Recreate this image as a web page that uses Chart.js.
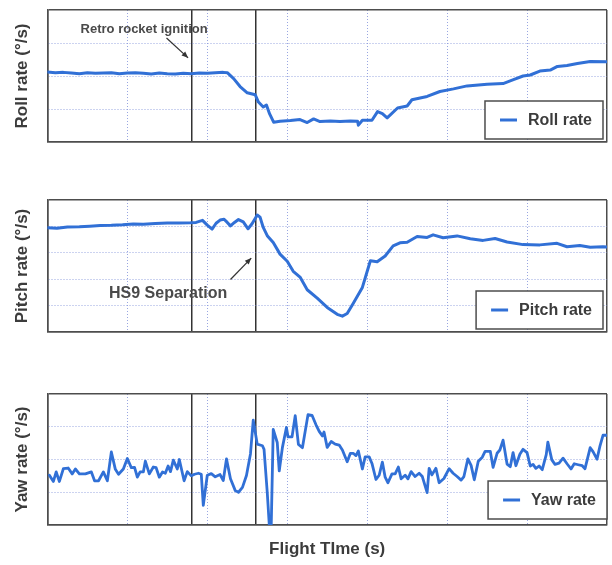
<!DOCTYPE html>
<html>
<head>
<meta charset="utf-8">
<script src="https://cdn.jsdelivr.net/npm/chart.js@4.4.1/dist/chart.umd.min.js"></script>
<style>
  html, body { margin: 0; padding: 0; background: #fff; }
  #wrap { position: relative; width: 612px; height: 565px; }
  canvas { position: absolute; left: 0; }
</style>
</head>
<body>
<div id="wrap">
  <canvas id="roll" width="612" height="175" style="top:0"></canvas>
  <canvas id="pitch" width="612" height="175" style="top:185px"></canvas>
  <canvas id="yaw" width="612" height="185" style="top:380px"></canvas>
</div>
<script>
// flight time in grid units, events = retro ignition / HS9 separation
const gridTimes = [0, 10, 20, 30, 40, 50, 60, 70];
const eventTimes = [18.1, 26.1];

const rollTime = [0, 1, 2, 3, 4, 5, 6, 7, 8, 9, 10, 11, 12, 13, 14, 15, 16, 17, 18, 19, 20, 21, 22,
  22.5, 23.3, 24.1, 25, 26, 26.4, 27, 27.4, 27.8, 28.3,
  29.1, 30.4, 31.6, 32.5, 33.3, 34.1, 35.4, 36.6, 37.9, 38.8, 38.9, 39.4, 40.6,
  41.3, 41.9, 42.5, 43.8, 45, 45.6, 47.5, 49.1, 50.8, 52.5,
  55, 57, 58.3, 59.5, 60.4, 61.6, 62.9, 63.8, 65, 66.3, 67.9, 70];
const rollRate = [2.12, 2.10, 2.11, 2.09, 2.07, 2.10, 2.08, 2.09, 2.10, 2.07, 2.09, 2.10, 2.08, 2.06, 2.09, 2.07, 2.06, 2.08, 2.07, 2.09, 2.08, 2.10, 2.11,
  2.10, 1.92, 1.68, 1.49, 1.43, 1.21, 1.06, 1.12, 0.85, 0.60,
  0.63, 0.65, 0.68, 0.59, 0.70, 0.62, 0.64, 0.62, 0.64, 0.63, 0.51, 0.66, 0.66,
  0.92, 0.86, 0.73, 1.03, 1.09, 1.28, 1.38, 1.53, 1.61, 1.70,
  1.75, 1.77, 1.89, 2.00, 2.03, 2.15, 2.18, 2.29, 2.32, 2.38, 2.44, 2.43];

const pitchTime = [0, 1.2, 2.5, 4, 5.3, 6.6, 8, 9.4, 10.75, 12,
  13.5, 15, 16.5, 17.9, 18.6, 19.4, 20, 20.6, 21.1, 21.6,
  22.1, 22.5, 22.9, 23.4, 23.9, 24.5, 25.1, 25.6, 26.25, 26.6,
  27, 27.5, 28.25, 29.1, 30, 30.75, 31.6, 32.5, 33.75, 35,
  36.25, 36.9, 37.5, 38.25, 39.4, 40.4, 41.25, 42.25, 43.25, 44.1,
  45, 46.25, 47.5, 48.25, 49.5, 51.25, 52.9, 54.5, 56, 57.5,
  59.5, 61.6, 63.75, 65, 66.6, 67.9, 69.5, 70];
const pitchRate = [3.95, 3.93, 3.98, 3.99, 4.01, 4.03, 4.04, 4.06, 4.09, 4.08,
  4.11, 4.13, 4.13, 4.14, 4.15, 4.23, 4.05, 3.90, 4.12, 4.24,
  4.27, 4.15, 4.02, 4.15, 4.26, 4.17, 3.91, 4.10, 4.43, 4.35,
  3.96, 3.65, 3.39, 2.95, 2.68, 2.30, 2.08, 1.60, 1.28, 0.93,
  0.67, 0.60, 0.70, 1.08, 1.69, 2.70, 2.66, 2.88, 3.26, 3.38,
  3.40, 3.62, 3.58, 3.68, 3.57, 3.64, 3.53, 3.47, 3.54, 3.41,
  3.31, 3.30, 3.36, 3.23, 3.28, 3.21, 3.23, 3.22];

const yawTime = [0.25, 0.75, 1.1, 1.5, 2, 2.6, 3.1, 3.5, 4, 4.75,
  5.5, 5.9, 6.4, 7, 7.5, 8, 8.5, 8.9, 9.5, 10,
  10.5, 10.9, 11.25, 11.6, 12, 12.25, 12.75, 13.25, 13.6, 14,
  14.4, 14.75, 15.1, 15.4, 15.75, 16.25, 16.5, 17.1, 17.5, 18,
  18.4, 18.9, 19.25, 19.5, 20, 20.5, 21, 21.6, 22, 22.4,
  22.9, 23.5, 23.9, 24.4, 24.9, 25.4, 25.75, 26.25, 26.9, 27.1,
  27.5, 27.75, 28, 28.25, 28.75, 29, 29.4, 29.9, 30.1, 30.6,
  31, 31.4, 31.9, 32.6, 33.1, 33.6, 34, 34.4, 34.6, 35,
  35.5, 36, 36.5, 36.9, 37.5, 37.9, 38.25, 38.6, 38.9, 39.4,
  39.75, 40.25, 40.6, 41.1, 41.5, 41.9, 42.25, 42.6, 43.1, 43.5,
  43.9, 44.25, 44.75, 45.1, 45.5, 46, 46.5, 46.9, 47.5, 47.75,
  48.1, 48.6, 49, 49.6, 50.25, 50.75, 51.25, 51.75, 52.1, 52.6,
  53, 53.4, 53.9, 54.4, 54.75, 55.4, 55.75, 56.25, 56.6, 57,
  57.5, 57.9, 58.25, 58.6, 59.1, 59.5, 60, 60.4, 60.75, 61.1,
  61.5, 61.9, 62.4, 62.6, 63.1, 63.5, 64, 64.5, 65, 65.5,
  65.9, 66.4, 66.9, 67.25, 67.9, 68.25, 68.75, 69.1, 69.5, 70];
const yawRate = [1.52, 1.33, 1.62, 1.33, 1.72, 1.74, 1.56, 1.71, 1.56, 1.56,
  1.62, 1.35, 1.35, 1.62, 1.35, 2.23, 1.70, 1.55, 1.71, 2.03,
  1.75, 1.76, 1.46, 1.62, 1.62, 1.95, 1.56, 1.77, 1.75, 1.46,
  1.62, 1.58, 1.80, 1.63, 1.98, 1.71, 2.00, 1.35, 1.63, 1.50,
  1.55, 1.58, 1.55, 0.60, 1.52, 1.57, 1.47, 1.54, 1.36, 2.02,
  1.41, 1.05, 1.00, 1.15, 1.51, 2.17, 3.20, 2.47, 2.42, 2.31,
  1.00, 0.02, 0.00, 2.92, 2.52, 1.65, 2.37, 2.98, 2.69, 2.69,
  3.34, 2.46, 2.36, 3.37, 3.35, 3.06, 2.86, 2.72, 2.84, 2.37,
  2.55, 2.47, 2.44, 2.29, 1.93, 2.19, 2.19, 2.12, 2.26, 1.71,
  2.08, 2.08, 1.88, 1.39, 1.52, 1.92, 1.46, 1.29, 1.56, 1.56,
  1.77, 1.41, 1.52, 1.41, 1.63, 1.48, 1.58, 1.48, 0.99, 1.73,
  1.53, 1.73, 1.29, 1.42, 1.72, 1.58, 1.48, 1.37, 1.48, 2.02,
  1.82, 1.38, 1.95, 2.07, 2.25, 2.25, 1.76, 2.19, 2.29, 2.59,
  1.86, 1.78, 2.21, 1.81, 2.16, 2.31, 2.21, 1.80, 1.85, 1.73,
  1.80, 1.69, 2.15, 2.53, 1.99, 1.85, 1.89, 2.04, 1.87, 1.71,
  1.87, 1.84, 1.81, 1.72, 2.36, 2.24, 2.01, 2.39, 2.74, 2.74];

const FONT = "'Liberation Sans', Arial, sans-serif";
const INK = '#3c3c3c';
const FRAME = '#4d4d4d';
const BLUE = '#3170d6';
const DOT = 'rgba(135,150,220,0.85)';

const isEvent = v => eventTimes.includes(v);

// legend box sitting in the lower right corner of the plot
const boxLegend = {
  id: 'boxLegend',
  afterDraw(chart, args, opts) {
    const { ctx, chartArea: a } = chart;
    const ds = chart.data.datasets[0];
    ctx.save();
    ctx.font = 'bold 16px ' + FONT;
    const tw = ctx.measureText(ds.label).width;
    const w = 15 + 17 + 11 + tw + 11, h = 38;
    const x = a.right - opts.right - w, y = a.bottom - opts.bottom - h;
    ctx.fillStyle = '#fff';
    ctx.fillRect(x, y, w, h);
    ctx.strokeStyle = FRAME;
    ctx.lineWidth = 1.5;
    ctx.strokeRect(x, y, w, h);
    ctx.strokeStyle = ds.borderColor;
    ctx.lineWidth = 3;
    ctx.beginPath();
    ctx.moveTo(x + 15, y + h / 2);
    ctx.lineTo(x + 32, y + h / 2);
    ctx.stroke();
    ctx.fillStyle = INK;
    ctx.textBaseline = 'middle';
    ctx.fillText(ds.label, x + 43, y + h / 2 + 1);
    ctx.restore();
  }
};

// text with an arrow, placed in data units
const callout = {
  id: 'callout',
  afterDatasetsDraw(chart, args, opts) {
    if (!opts.text) return;
    const xs = chart.scales.x, ys = chart.scales.y;
    const px = p => [xs.getPixelForValue(p[0]), ys.getPixelForValue(p[1])];
    const { ctx } = chart;
    const [tx, ty] = px(opts.at);
    const [x1, y1] = px(opts.from);
    const [x2, y2] = px(opts.to);
    ctx.save();
    ctx.font = 'bold ' + opts.size + 'px ' + FONT;
    ctx.fillStyle = '#4a4a4a';
    ctx.textAlign = 'center';
    ctx.textBaseline = 'middle';
    ctx.fillText(opts.text, tx, ty);
    ctx.strokeStyle = '#333';
    ctx.fillStyle = '#333';
    ctx.lineWidth = 1.2;
    ctx.beginPath();
    ctx.moveTo(x1, y1);
    ctx.lineTo(x2, y2);
    ctx.stroke();
    const ang = Math.atan2(y2 - y1, x2 - x1);
    ctx.beginPath();
    ctx.moveTo(x2, y2);
    ctx.lineTo(x2 - 7 * Math.cos(ang - 0.4), y2 - 7 * Math.sin(ang - 0.4));
    ctx.lineTo(x2 - 7 * Math.cos(ang + 0.4), y2 - 7 * Math.sin(ang + 0.4));
    ctx.closePath();
    ctx.fill();
    ctx.restore();
  }
};

function panel(id, cfg) {
  const yMax = cfg.yMax;
  const yEdge = v => v === 0 || v === yMax;
  const xEdge = v => v === 0 || v === 70;
  return new Chart(document.getElementById(id), {
    type: 'line',
    data: {
      datasets: [{
        label: cfg.label,
        data: cfg.times.map((t, i) => ({ x: t, y: cfg.values[i] })),
        borderColor: BLUE,
        borderWidth: cfg.width || 3,
        borderJoinStyle: 'round',
        borderCapStyle: 'round',
        pointRadius: 0,
        tension: 0,
        fill: false
      }]
    },
    options: {
      responsive: false,
      animation: false,
      events: [],
      layout: { padding: cfg.pad },
      plugins: {
        legend: { display: false },
        tooltip: { enabled: false },
        boxLegend: cfg.legend,
        callout: cfg.note || {}
      },
      scales: {
        x: {
          type: 'linear',
          min: 0,
          max: 70,
          afterBuildTicks: s => {
            s.ticks = gridTimes.concat(eventTimes).sort((a, b) => a - b).map(v => ({ value: v }));
          },
          ticks: { display: false },
          grid: {
            drawTicks: false,
            color: c => c.tick && isEvent(c.tick.value) ? '#333' : (c.tick && xEdge(c.tick.value) ? FRAME : DOT),
            lineWidth: c => c.tick && (isEvent(c.tick.value) || xEdge(c.tick.value)) ? 1.5 : 1
          },
          border: {
            color: FRAME,
            width: 1.5,
            dash: c => c.tick && !isEvent(c.tick.value) && !xEdge(c.tick.value) ? [1, 2] : []
          },
          title: cfg.xTitle ? {
            display: true,
            text: cfg.xTitle,
            color: INK,
            font: { family: FONT, size: 17, weight: 'bold' },
            padding: { top: 14, bottom: 0 }
          } : { display: false }
        },
        y: {
          min: 0,
          max: yMax,
          ticks: { display: false, stepSize: 1 },
          grid: {
            drawTicks: false,
            color: c => c.tick && yEdge(c.tick.value) ? FRAME : DOT,
            lineWidth: c => c.tick && yEdge(c.tick.value) ? 1.5 : 1
          },
          border: {
            color: FRAME,
            width: 1.5,
            dash: c => c.tick && !yEdge(c.tick.value) ? [1, 2] : []
          },
          title: {
            display: true,
            text: cfg.yTitle,
            color: INK,
            font: { family: FONT, size: 17, weight: 'bold' },
            padding: { top: 8, bottom: 15 }
          }
        }
      }
    },
    plugins: [boxLegend, callout]
  });
}

panel('roll', {
  label: 'Roll rate', yTitle: 'Roll rate (°/s)', times: rollTime, values: rollRate, yMax: 4,
  pad: { left: 4, right: 5, top: 10, bottom: 33 },
  legend: { right: 4, bottom: 3 },
  note: { text: 'Retro rocket ignition', size: 13, at: [12.1, 3.42], from: [14.9, 3.15], to: [17.6, 2.55] }
});

panel('pitch', {
  label: 'Pitch rate', yTitle: 'Pitch rate (°/s)', times: pitchTime, values: pitchRate, yMax: 5,
  pad: { left: 4, right: 5, top: 15, bottom: 28 },
  legend: { right: 4, bottom: 3 },
  note: { text: 'HS9 Separation', size: 16, at: [15.1, 1.45], from: [22.9, 1.99], to: [25.5, 2.8] }
});

panel('yaw', {
  label: 'Yaw rate', yTitle: 'Yaw rate (°/s)', xTitle: 'Flight TIme (s)', times: yawTime, values: yawRate, yMax: 4,
  width: 2.8,
  pad: { left: 4, right: 5, top: 14, bottom: 5.6 },
  legend: { right: 0, bottom: 6 }
});
</script>
</body>
</html>
